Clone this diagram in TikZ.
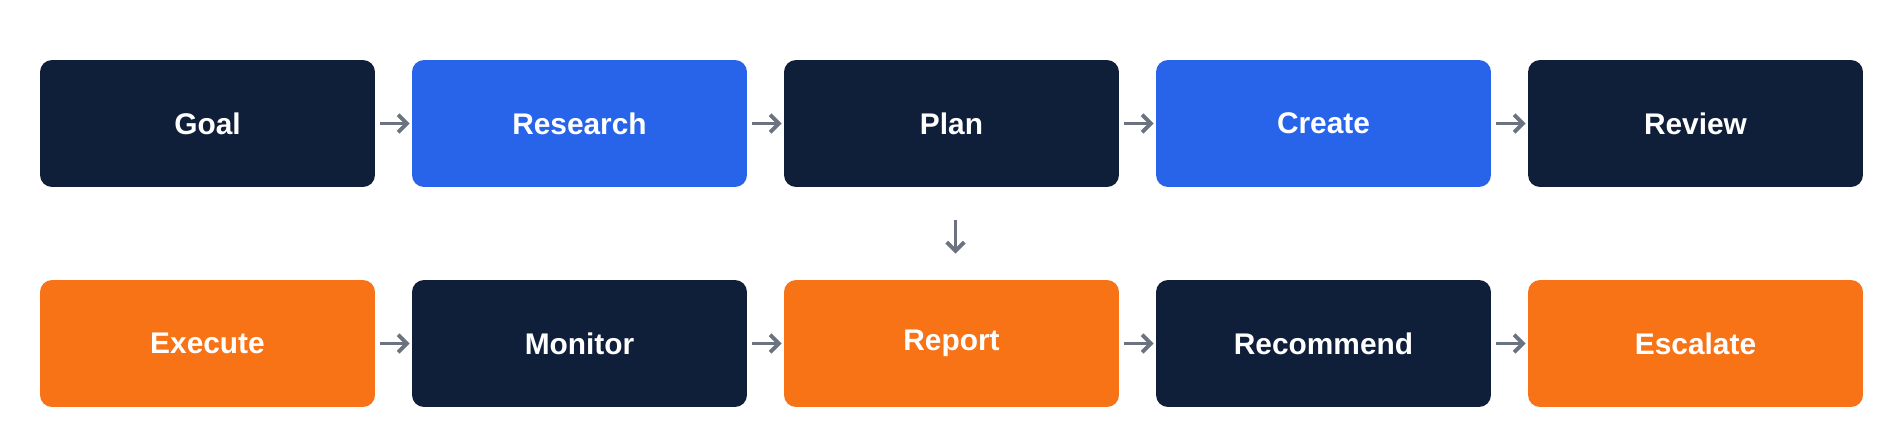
\documentclass[tikz,border=0pt]{standalone}
\usepackage{fontspec}
\setmainfont{Liberation Sans}
\usetikzlibrary{arrows.meta}
\definecolor{navy}{HTML}{0F1F3A}
\definecolor{bluebox}{HTML}{2764EA}
\definecolor{orangebox}{HTML}{F87316}
\definecolor{arrowgray}{HTML}{6B7280}
\tikzset{
  stage/.style={rounded corners=0.24cm, minimum width=6.7cm, minimum height=2.54cm,
    text=white, font=\fontsize{17}{20}\selectfont\bfseries, inner sep=0pt},
  link/.style={draw=arrowgray, line width=2.2pt, -{Straight Barb[length=5pt,width=10pt]}}
}
\begin{document}
\begin{tikzpicture}[x=0.02cm,y=-0.02cm]
\useasboundingbox (0,0) rectangle (1904,448);
\node[stage, fill=navy] (goal) at (207.5,123.5) {Goal};
\node[stage, fill=bluebox] (research) at (579.5,123.5) {Research};
\node[stage, fill=navy] (plan) at (951.5,123.5) {Plan};
\node[stage, fill=bluebox] (create) at (1323.5,123.5) {Create};
\node[stage, fill=navy] (review) at (1695.5,123.5) {Review};

\node[stage, fill=orangebox] (execute) at (207.5,343.5) {Execute};
\node[stage, fill=navy] (monitor) at (579.5,343.5) {Monitor};
\node[stage, fill=orangebox] (report) at (951.5,343.5) {Report};
\node[stage, fill=navy] (recommend) at (1323.5,343.5) {Recommend};
\node[stage, fill=orangebox] (escalate) at (1695.5,343.5) {Escalate};

\draw[link] ([xshift=0.1cm]goal.east) -- ([xshift=-0.04cm]research.west);
\draw[link] ([xshift=0.1cm]research.east) -- ([xshift=-0.04cm]plan.west);
\draw[link] ([xshift=0.1cm]plan.east) -- ([xshift=-0.04cm]create.west);
\draw[link] ([xshift=0.1cm]create.east) -- ([xshift=-0.04cm]review.west);
\draw[link] ([xshift=0.1cm]execute.east) -- ([xshift=-0.04cm]monitor.west);
\draw[link] ([xshift=0.1cm]monitor.east) -- ([xshift=-0.04cm]report.west);
\draw[link] ([xshift=0.1cm]report.east) -- ([xshift=-0.04cm]recommend.west);
\draw[link] ([xshift=0.1cm]recommend.east) -- ([xshift=-0.04cm]escalate.west);
\draw[link] ([xshift=0.08cm,yshift=-0.66cm]plan.south) -- ([xshift=0.08cm,yshift=0.52cm]report.north);
\end{tikzpicture}
\end{document}
